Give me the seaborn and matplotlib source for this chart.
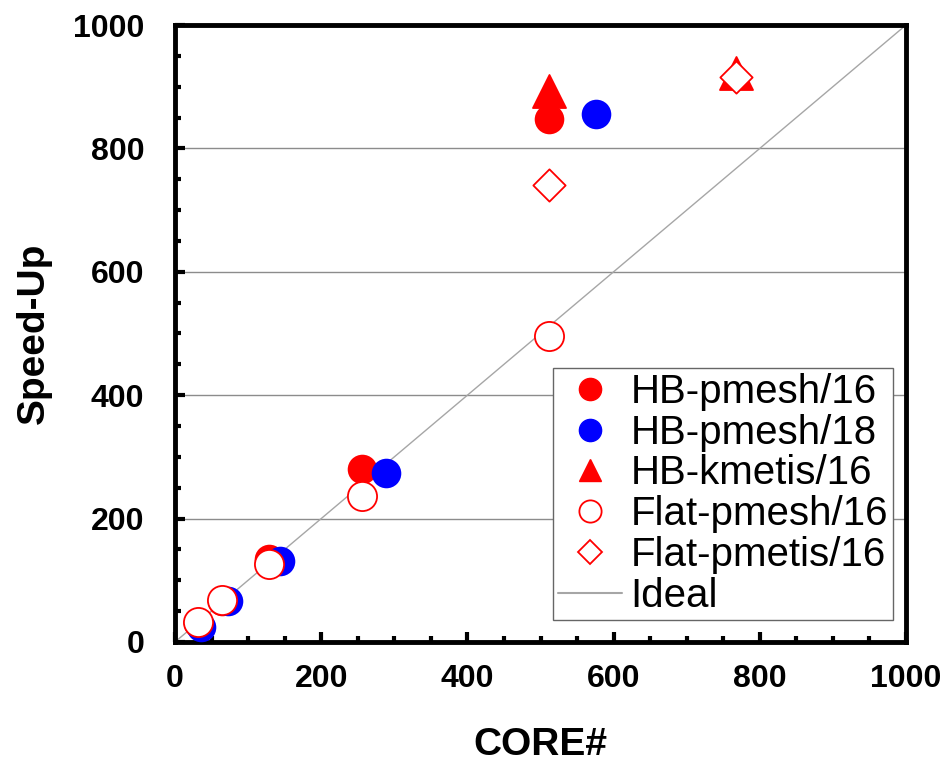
"""Speed-up vs. core count for hybrid and flat partitioning runs."""

import matplotlib

matplotlib.use("Agg")

import matplotlib.pyplot as plt
import pandas as pd
import seaborn as sns
from matplotlib.lines import Line2D
from matplotlib.ticker import MultipleLocator

# values
hb_pmesh16_cores = [32, 64, 128, 256, 512]
hb_pmesh16_speedup = [31, 67, 134, 280, 848]
hb_pmesh18_cores = [36, 72, 144, 288, 576]
hb_pmesh18_speedup = [25, 66, 131, 274, 856]
hb_kmetis16_cores = [512, 768]
hb_kmetis16_speedup = [893, 922]
flat_pmesh16_cores = [32, 64, 128, 256, 512]
flat_pmesh16_speedup = [32, 68, 127, 236, 496]
flat_pmetis16_cores = [512, 768]
flat_pmetis16_speedup = [740, 916]
ideal_cores = [0, 1000]
ideal_speedup = [0, 1000]

series_labels = ["HB-pmesh/16", "HB-pmesh/18", "HB-kmetis/16", "Flat-pmesh/16", "Flat-pmetis/16"]

sns.set_style("white")
plt.rcParams["font.family"] = ["Liberation Sans", "DejaVu Sans"]
plt.rcParams["text.color"] = "black"
plt.rcParams["axes.labelcolor"] = "black"
plt.rcParams["xtick.color"] = "black"
plt.rcParams["ytick.color"] = "black"

fig = plt.figure(figsize=(9.48, 7.67), dpi=100)
ax = fig.add_axes([0.1846, 0.163, 0.7711, 0.8044])

ideal = pd.DataFrame({"core": ideal_cores, "speedup": ideal_speedup})
sns.lineplot(data=ideal, x="core", y="speedup", ax=ax, color="#a6a6a6", linewidth=1.0, zorder=1)

# (cores, speedup, marker, size, face, edge)
styles = [
    (hb_pmesh16_cores, hb_pmesh16_speedup, "o", 400, "red", "red"),
    (hb_pmesh18_cores, hb_pmesh18_speedup, "o", 400, "blue", "blue"),
    (hb_kmetis16_cores, hb_kmetis16_speedup, "^", 565, "red", "red"),
    (flat_pmesh16_cores, flat_pmesh16_speedup, "o", 440, "white", "red"),
    (flat_pmetis16_cores, flat_pmetis16_speedup, "D", 270, "white", "red"),
]
for i, (cores, speedup, marker, size, face, edge) in enumerate(styles):
    df = pd.DataFrame({"core": cores, "speedup": speedup})
    sns.scatterplot(data=df, x="core", y="speedup", ax=ax, marker=marker, s=size,
                    color=face, edgecolor=edge, linewidth=1.3, zorder=3 + i)

ax.set_xlim(0, 1000)
ax.set_ylim(0, 1000)
ax.xaxis.set_major_locator(MultipleLocator(200))
ax.xaxis.set_minor_locator(MultipleLocator(50))
ax.yaxis.set_major_locator(MultipleLocator(200))
ax.yaxis.set_minor_locator(MultipleLocator(50))

for y in [200, 400, 600, 800]:
    ax.axhline(y, color="#8c8c8c", linewidth=1.0, zorder=0)

for spine in ax.spines.values():
    spine.set_visible(True)
    spine.set_linewidth(3.5)
    spine.set_color("black")

ax.tick_params(axis="both", which="both", direction="in", width=3, colors="black",
               top=False, right=False, bottom=True, left=True)
ax.tick_params(axis="both", which="major", length=7, labelsize=23)
ax.tick_params(axis="both", which="minor", length=4)
ax.tick_params(axis="x", which="major", pad=16)
ax.tick_params(axis="y", which="major", pad=22)
for lab in ax.get_xticklabels() + ax.get_yticklabels():
    lab.set_fontweight("bold")

ax.set_xlabel("CORE#", fontsize=28, fontweight="bold")
ax.set_ylabel("Speed-Up", fontsize=28, fontweight="bold")
ax.xaxis.set_label_coords(0.5, -0.138)
ax.yaxis.set_label_coords(-0.168, 0.5)

# legend markers are drawn a bit smaller than the plotted ones
handles = [
    Line2D([], [], linestyle="none", marker="o", markersize=16, markerfacecolor="red", markeredgecolor="red"),
    Line2D([], [], linestyle="none", marker="o", markersize=16, markerfacecolor="blue", markeredgecolor="blue"),
    Line2D([], [], linestyle="none", marker="^", markersize=16, markerfacecolor="red", markeredgecolor="red"),
    Line2D([], [], linestyle="none", marker="o", markersize=16, markerfacecolor="white",
           markeredgecolor="red", markeredgewidth=1.3),
    Line2D([], [], linestyle="none", marker="D", markersize=12, markerfacecolor="white",
           markeredgecolor="red", markeredgewidth=1.3),
    Line2D([], [], color="#a6a6a6", linewidth=1.5),
]
leg = ax.legend(handles, series_labels + ["Ideal"], loc="lower right",
                bbox_to_anchor=(0.982, 0.036), borderaxespad=0, fontsize=29,
                labelspacing=0.07, handlelength=1.6, handletextpad=0.2,
                borderpad=0.12, fancybox=False, framealpha=1)
leg.get_frame().set_edgecolor("#666666")
leg.get_frame().set_linewidth(1.0)
leg.set_zorder(20)

fig.savefig("out.png", dpi=100)
